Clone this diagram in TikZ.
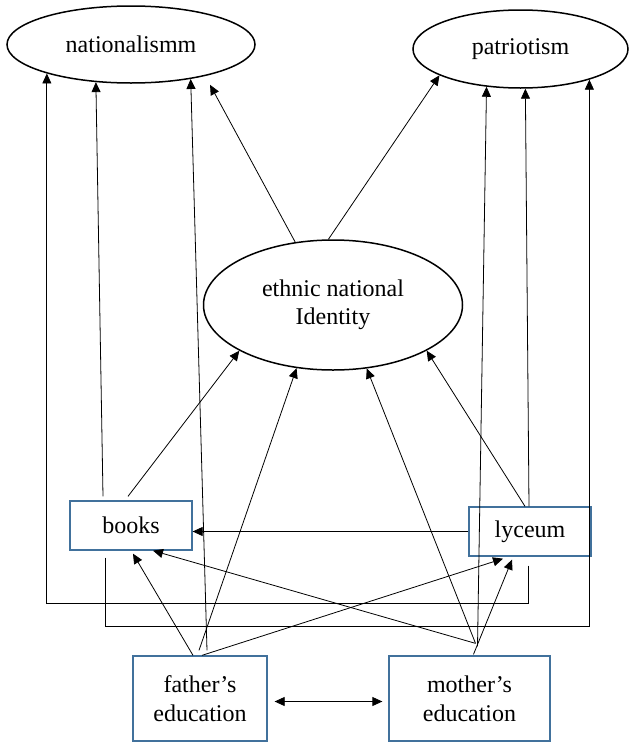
\documentclass[tikz,border=0pt]{standalone}
\usepackage{fontspec}
\setmainfont{Liberation Serif}
\usepackage{tikz}
\usetikzlibrary{shapes.geometric,positioning,arrows.meta}
\definecolor{boxblue}{RGB}{65,113,156}
\tikzset{
  >={Triangle[length=10pt,width=9pt]},
  every edge/.style={draw, line width=0.8pt},
  construct/.style={draw, ellipse, line width=1.5pt, inner sep=0pt, align=center,
    font=\fontsize{24}{28}\selectfont},
  indicator/.style={draw=boxblue, rectangle, line width=1.3pt, inner sep=0pt, align=center,
    font=\fontsize{24}{29}\selectfont},
}

\begin{document}
\begin{tikzpicture}[->, x=1pt, y=-1pt, on grid, line width=0.8pt]
    \useasboundingbox (0,0) rectangle (629,742);
    \node[construct, minimum width=259pt, minimum height=130pt] (eth) at (333,305) {ethnic national\\Identity};
    \node[construct, minimum width=248pt, minimum height=77pt] (nat) [above left=260.5pt and 202pt of eth] {nationalismm};
    \node[construct, minimum width=215pt, minimum height=78pt] (pat) [above right=256pt and 187.5pt of eth] {patriotism};
    \node[indicator, minimum width=122pt, minimum height=49pt] (books) [below left=220.5pt and 202pt of eth] {books};
    \node[indicator, minimum width=122pt, minimum height=49pt] (lyc) [below right=226.5pt and 197pt of eth] {lyceum};
    \node[indicator, minimum width=134pt, minimum height=85pt] (fat) [below right=173pt and 69pt of books] {father’s\\education};
    \node[indicator, minimum width=161pt, minimum height=85pt] (mot) [right=269.5pt of fat] {mother’s\\education};
    \path
      (eth.121) edge[shorten >=10pt] (nat.337)
      (eth.94) edge (pat.198)
      ([xshift=-3pt,yshift=4pt]books.north) edge (eth.206)
      ([xshift=-28pt,yshift=4pt]books.north) edge (nat.227)
      ([xshift=-5pt]lyc.north) edge (eth.334)
      ([xshift=-1pt]lyc.north) edge (pat.277)
      (lyc.west) edge (lyc.west -| books.east)
      ([xshift=-7pt]fat.north) edge ([xshift=2pt,yshift=-3pt]books.south)
      ([xshift=-1pt,yshift=5pt]fat.north) edge (eth.240)
      ([xshift=7pt,yshift=5pt]fat.north) edge (nat.330)
      ([xshift=2pt]fat.north) edge ([xshift=-27pt,yshift=-2pt]lyc.south)
      ([xshift=6pt,yshift=12pt]mot.north) edge ([xshift=22pt]books.south)
      ([xshift=6pt,yshift=12pt]mot.north) edge (eth.298)
      ([xshift=8pt,yshift=9pt]mot.north) edge (pat.228)
      ([xshift=4pt,yshift=1pt]mot.north) edge ([xshift=-18pt,yshift=-3pt]lyc.south)
      ([xshift=7pt,yshift=-3pt]fat.east) edge[<->] ([xshift=-6pt,yshift=-3pt]mot.west);
    \draw ([xshift=-2pt,yshift=-9pt]lyc.south) -- ++(0,38) -| (nat.199);
    \draw ([xshift=-26pt,yshift=-7pt]books.south) -- ++(0,69) -| (pat.336);
  \end{tikzpicture}
\end{document}
